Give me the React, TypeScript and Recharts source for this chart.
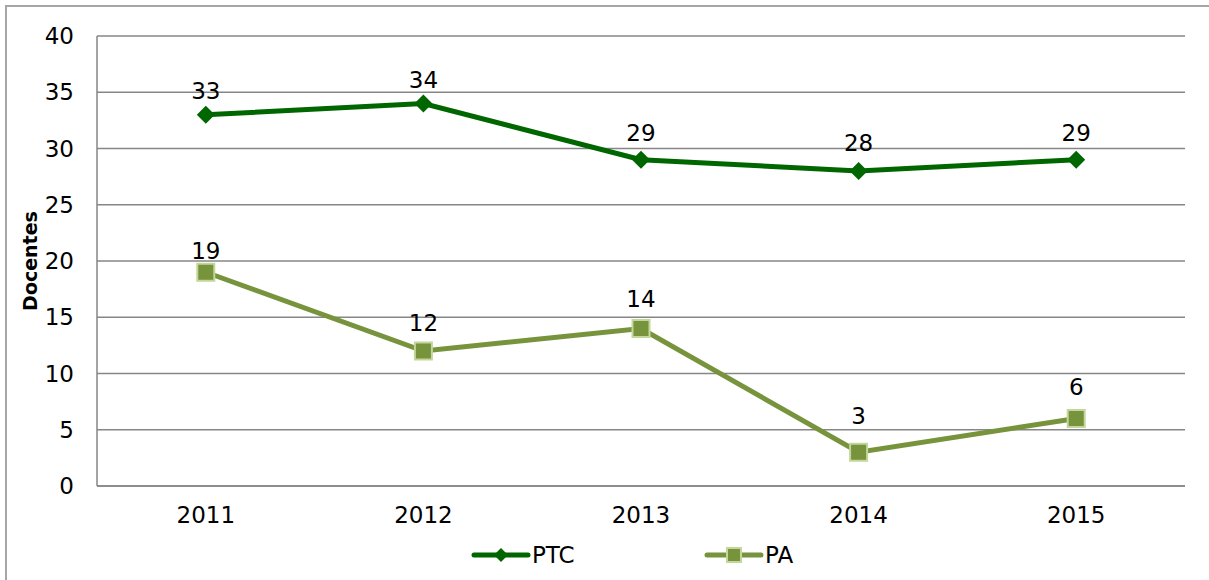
import { LineChart, Line, XAxis, YAxis, CartesianGrid, LabelList } from 'recharts';

const years = ['2011', '2012', '2013', '2014', '2015'];
const ptcValues = [33, 34, 29, 28, 29];
const paValues = [19, 12, 14, 3, 6];
const yTicks = [0, 5, 10, 15, 20, 25, 30, 35, 40];

const data = years.map((year, i) => ({ year, PTC: ptcValues[i], PA: paValues[i] }));

const FONT = '"DejaVu Sans", Verdana, sans-serif';
const FS = 23;
const PTC_COLOR = '#006600';
const PA_COLOR = '#77933C';
const PA_EDGE = '#C3D69B';
const GRID = '#868686';

// label distance above each point (px), as placed in the original
const ptcLabelGap = [16, 16, 19, 20, 19];
const paLabelGap = [13, 20, 22, 28, 24];

const Diamond = (props: any) => {
  const { cx, cy } = props;
  if (cx == null || cy == null) return null;
  const r = 9;
  return (
    <polygon
      points={`${cx},${cy - r} ${cx + r},${cy} ${cx},${cy + r} ${cx - r},${cy}`}
      fill={PTC_COLOR}
    />
  );
};

const Square = (props: any) => {
  const { cx, cy } = props;
  if (cx == null || cy == null) return null;
  const s = 17;
  return (
    <rect x={cx - s / 2} y={cy - s / 2} width={s} height={s} fill={PA_COLOR} stroke={PA_EDGE} strokeWidth={2} />
  );
};

const makeLabel = (gaps: number[]) => (props: any) => {
  const { x, y, value, index } = props;
  return (
    <text x={x} y={y - (gaps[index] ?? 15)} textAnchor="middle" fontFamily={FONT} fontSize={FS} fill="#000">
      {value}
    </text>
  );
};

const YLabel = (props: any) => {
  const { viewBox } = props;
  const cy = viewBox.y + viewBox.height / 2;
  return (
    <text
      x={30}
      y={cy}
      transform={`rotate(-90, 30, ${cy})`}
      textAnchor="middle"
      dominantBaseline="central"
      fontFamily={FONT}
      fontSize={19}
      fontWeight="bold"
      fill="#000"
    >
      Docentes
    </text>
  );
};

function LegendBox() {
  return (
    <svg width={1209} height={40} style={{ position: 'absolute', left: 0, top: 535 }}>
      <g>
        <line x1={474} y1={20} x2={528} y2={20} stroke={PTC_COLOR} strokeWidth={5} strokeLinecap="round" />
        <polygon points="501,13 508,20 501,27 494,20" fill={PTC_COLOR} />
        <text x={532} y={28} fontFamily={FONT} fontSize={FS} fill="#000">PTC</text>
      </g>
      <g>
        <line x1={707} y1={20} x2={761} y2={20} stroke={PA_COLOR} strokeWidth={5} strokeLinecap="round" />
        <rect x={727} y={13} width={14} height={14} fill={PA_COLOR} stroke={PA_EDGE} strokeWidth={2} />
        <text x={765} y={28} fontFamily={FONT} fontSize={FS} fill="#000">PA</text>
      </g>
    </svg>
  );
}

export default function App() {
  return (
    <div style={{ position: 'absolute', left: 0, top: 0, width: 1209, height: 580, background: '#fff', overflow: 'hidden' }}>
      <div
        style={{
          position: 'absolute',
          left: 5,
          top: 5,
          width: 1220,
          height: 600,
          borderLeft: '2px solid #a6a6a6',
          borderTop: '2px solid #a6a6a6',
        }}
      />
      <div style={{ position: 'absolute', left: 0, top: 0 }}>
        <LineChart width={1209} height={580} data={data} margin={{ top: 36, right: 24, left: 0, bottom: 34 }}>
          <CartesianGrid vertical={false} stroke={GRID} strokeWidth={1.5} />
          <XAxis
            dataKey="year"
            padding={{ left: 108.8, right: 108.8 }}
            axisLine={{ stroke: GRID, strokeWidth: 1.5 }}
            tickLine={false}
            tickMargin={15}
            height={60}
            tick={{ fontFamily: FONT, fontSize: FS, fill: '#000' }}
          />
          <YAxis
            domain={[0, 40]}
            ticks={yTicks}
            width={97}
            axisLine={{ stroke: GRID, strokeWidth: 1.5 }}
            tickLine={false}
            tickMargin={17}
            tick={{ fontFamily: FONT, fontSize: FS, fill: '#000' }}
            label={<YLabel />}
          />
          <Line
            dataKey="PTC"
            stroke={PTC_COLOR}
            strokeWidth={5}
            dot={<Diamond />}
            activeDot={false}
            isAnimationActive={false}
          >
            <LabelList dataKey="PTC" content={makeLabel(ptcLabelGap)} />
          </Line>
          <Line
            dataKey="PA"
            stroke={PA_COLOR}
            strokeWidth={5}
            dot={<Square />}
            activeDot={false}
            isAnimationActive={false}
          >
            <LabelList dataKey="PA" content={makeLabel(paLabelGap)} />
          </Line>
        </LineChart>
      </div>
      <LegendBox />
    </div>
  );
}
